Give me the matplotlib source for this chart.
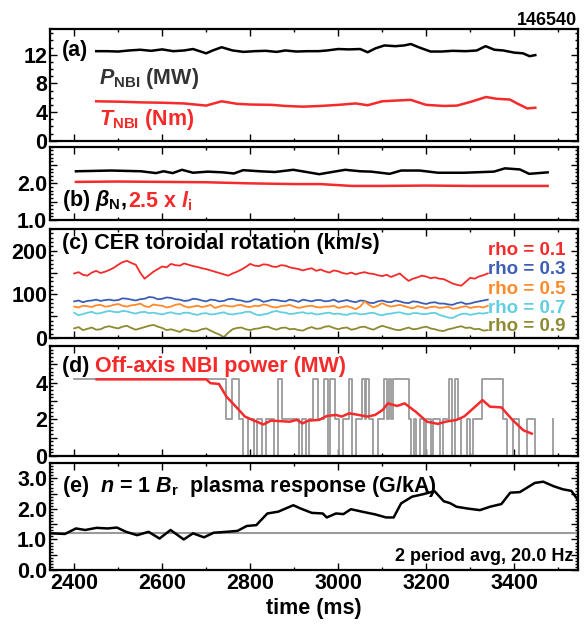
import matplotlib
matplotlib.use("Agg")
import matplotlib.pyplot as plt
from matplotlib.ticker import FixedLocator, FixedFormatter, MultipleLocator

plt.rcParams["font.family"] = ["Liberation Sans Narrow", "Liberation Sans", "DejaVu Sans"]
plt.rcParams["font.weight"] = "bold"
plt.rcParams["axes.labelweight"] = "bold"
plt.rcParams["mathtext.fontset"] = "custom"
plt.rcParams["mathtext.rm"] = "Liberation Sans:bold"
plt.rcParams["mathtext.it"] = "Liberation Sans:italic:bold"
plt.rcParams["mathtext.bf"] = "Liberation Sans:bold"

# (a) NBI power and torque
a_t = [2450, 2475, 2500, 2525, 2550, 2575, 2600, 2625, 2650, 2670, 2685, 2700, 2715, 2735,
       2760, 2785, 2810, 2835, 2860, 2880, 2905, 2930, 2955, 2975, 3000, 3025, 3050, 3067,
       3085, 3105, 3130, 3150, 3165, 3185, 3210, 3235, 3260, 3290, 3315, 3335, 3355, 3375,
       3400, 3420, 3435, 3448]
p_nbi = [12.5, 12.5, 12.45, 12.6, 12.7, 12.55, 12.75, 12.5, 12.6, 12.8, 12.5, 12.2, 12.6, 13.05,
         12.6, 12.4, 12.5, 12.55, 12.4, 12.6, 12.45, 12.5, 12.5, 12.6, 12.8, 12.75, 12.8, 12.35,
         12.9, 13.3, 13.2, 13.3, 13.5, 13.0, 12.45, 12.45, 12.55, 12.5, 12.6, 13.2, 12.7, 12.6,
         12.3, 12.2, 11.8, 11.95]
t2_t = [2450, 2500, 2550, 2600, 2650, 2700, 2735, 2770, 2800, 2850, 2880, 2920, 2960, 3000,
        3040, 3067, 3100, 3130, 3165, 3200, 3240, 3270, 3300, 3336, 3360, 3390, 3410, 3430, 3448]
t_nbi = [5.5, 5.45, 5.35, 5.3, 5.2, 4.9, 5.5, 5.15, 5.05, 5.0, 4.85, 4.75, 4.85, 5.0,
         5.2, 4.95, 5.5, 5.6, 5.7, 5.0, 4.85, 4.9, 5.4, 6.1, 5.85, 5.75, 5.1, 4.5, 4.6]

# (b) beta_N and 2.5 x li
b_t = [2404, 2484, 2552, 2586, 2603, 2624, 2645, 2670, 2704, 2738, 2763, 2784, 2822, 2856,
       2898, 2923, 2957, 2991, 3016, 3050, 3075, 3117, 3143, 3185, 3227, 3286, 3354, 3379,
       3413, 3434, 3476]
beta_n = [2.33, 2.35, 2.33, 2.28, 2.33, 2.28, 2.37, 2.29, 2.32, 2.30, 2.27, 2.36, 2.33, 2.31,
          2.37, 2.32, 2.25, 2.32, 2.37, 2.33, 2.32, 2.26, 2.35, 2.35, 2.29, 2.29, 2.32, 2.41,
          2.38, 2.26, 2.30]
li_t = [2404, 2500, 2600, 2700, 2800, 2900, 2960, 3030, 3100, 3200, 3300, 3400, 3476]
li25 = [2.04, 2.05, 2.04, 2.03, 2.00, 1.98, 1.98, 1.93, 1.93, 1.94, 1.93, 1.93, 1.93]

# (c) CER toroidal rotation, 10 ms samples from 2400 to 3340 ms
c_t = list(range(2400, 3341, 10))
rot_01 = [148, 151, 145, 143, 150, 154, 149, 152, 156, 161,
          168, 174, 177, 172, 168, 150, 136, 144, 152, 158,
          164, 162, 170, 167, 166, 171, 168, 165, 163, 160,
          158, 155, 152, 149, 146, 143, 148, 152, 157, 163,
          170, 166, 165, 169, 168, 164, 163, 167, 166, 162,
          160, 158, 155, 158, 160, 154, 157, 153, 150, 155,
          153, 149, 147, 150, 146, 149, 151, 148, 147, 144,
          142, 145, 140, 144, 148, 139, 131, 136, 139, 143,
          141, 137, 139, 136, 135, 130, 125, 122, 120, 129,
          138, 136, 141, 144, 148]
rot_03 = [84, 86, 82, 85, 86, 88, 85, 87, 88, 86,
          87, 91, 90, 88, 86, 89, 90, 94, 93, 89,
          90, 93, 92, 89, 88, 85, 86, 90, 89, 86,
          84, 88, 87, 84, 85, 89, 90, 87, 86, 83,
          84, 89, 88, 83, 85, 88, 87, 85, 84, 88,
          86, 83, 88, 86, 84, 87, 87, 84, 85, 88,
          83, 85, 87, 84, 82, 86, 85, 81, 80, 84,
          86, 83, 82, 86, 84, 81, 80, 84, 83, 80,
          78, 81, 82, 79, 79, 77, 76, 80, 82, 78,
          79, 82, 84, 86, 88]
rot_05 = [72, 70, 74, 73, 71, 75, 76, 72, 73, 76,
          78, 74, 72, 75, 76, 79, 73, 71, 77, 75,
          74, 70, 72, 76, 78, 73, 70, 72, 74, 71,
          73, 76, 69, 72, 75, 73, 72, 75, 76, 72,
          71, 74, 73, 77, 75, 71, 70, 73, 74, 76,
          72, 69, 71, 73, 74, 71, 70, 72, 72, 74,
          69, 71, 73, 70, 66, 72, 84, 76, 70, 74,
          80, 75, 72, 74, 76, 73, 70, 68, 73, 71,
          68, 71, 72, 69, 70, 72, 67, 68, 71, 73,
          69, 71, 72, 70, 74]
rot_07 = [58, 52, 55, 58, 60, 56, 57, 60, 62, 60,
          59, 62, 61, 58, 56, 59, 60, 57, 58, 56,
          54, 57, 59, 56, 55, 58, 58, 55, 53, 56,
          57, 54, 55, 57, 59, 55, 54, 56, 57, 60,
          60, 55, 52, 54, 56, 60, 62, 59, 58, 55,
          56, 58, 59, 56, 57, 54, 55, 57, 58, 55,
          56, 54, 53, 56, 57, 54, 55, 57, 58, 54,
          52, 55, 56, 58, 59, 56, 54, 57, 57, 55,
          55, 57, 58, 53, 50, 47, 46, 51, 55, 56,
          53, 55, 57, 56, 58]
rot_09 = [22, 25, 18, 21, 24, 19, 20, 25, 27, 24,
          22, 26, 28, 23, 19, 22, 25, 28, 30, 26,
          23, 18, 20, 17, 14, 20, 18, 15, 16, 20,
          22, 17, 12, 8, 2, 12, 20, 23, 24, 20,
          18, 21, 22, 25, 26, 22, 19, 23, 24, 20,
          21, 18, 17, 22, 25, 21, 22, 26, 27, 23,
          20, 23, 24, 19, 21, 25, 26, 22, 19, 24,
          28, 25, 22, 19, 18, 21, 24, 20, 21, 24,
          26, 22, 20, 17, 16, 20, 22, 25, 27, 23,
          24, 20, 21, 17, 18]
rho_labels = ["rho = 0.1", "rho = 0.3", "rho = 0.5", "rho = 0.7", "rho = 0.9"]
rho_colors = ["#f52a2a", "#3c5fb4", "#ff8a2a", "#62cfe0", "#8e8a30"]

# (d) off-axis NBI power: raw beam steps and smoothed
d_step_t = [2400, 2746, 2759, 2775, 2784, 2794, 2808, 2815, 2826, 2835, 2855, 2863, 2873,
            2912, 2918, 2926, 2933, 2942, 2955, 2968, 2976, 2982, 2993, 3003, 3010, 3025,
            3032, 3040, 3054, 3060, 3064, 3071, 3080, 3090, 3104, 3110, 3115, 3120, 3125,
            3160, 3166, 3172, 3178, 3186, 3194, 3200, 3210, 3216, 3231, 3238, 3252, 3258,
            3265, 3273, 3280, 3292, 3300, 3307, 3328, 3375, 3383, 3398, 3410, 3429, 3448, 3489]
d_step_p = [4.2, 2.0, 4.2, 2.0, 0.0, 2.0, 0.0, 2.0, 0.0, 2.0, 0.0, 4.2, 2.0,
            0.0, 2.0, 0.0, 2.0, 4.2, 2.0, 4.2, 0.0, 4.2, 2.0, 0.0, 2.0, 4.2,
            0.0, 2.0, 4.2, 2.0, 4.2, 2.0, 0.0, 2.0, 4.2, 2.0, 4.2, 2.0, 4.2,
            2.0, 0.0, 2.0, 0.0, 2.0, 0.0, 2.0, 0.0, 2.0, 0.0, 2.0, 4.2, 0.0,
            4.2, 2.0, 0.0, 2.0, 0.0, 2.0, 4.2, 2.0, 0.0, 2.0, 0.0, 2.0, 0.0, 2.0]
d_avg_t = [2451, 2700, 2710, 2729, 2746, 2771, 2788, 2805, 2830, 2847, 2890, 2906, 2919,
           2932, 2957, 2974, 2995, 3008, 3025, 3046, 3067, 3084, 3101, 3113, 3134, 3151,
           3176, 3202, 3227, 3244, 3269, 3286, 3303, 3328, 3345, 3371, 3396, 3421, 3440]
d_avg_p = [4.18, 4.18, 3.97, 3.93, 3.24, 2.60, 2.15, 1.97, 1.72, 1.93, 1.87, 1.97, 1.78,
           1.93, 1.97, 2.18, 2.24, 2.15, 2.33, 2.24, 2.15, 2.24, 2.51, 2.87, 2.73, 2.87,
           2.42, 1.87, 1.75, 1.87, 1.97, 2.15, 2.51, 3.05, 2.69, 2.65, 1.97, 1.40, 1.22]

# (e) n=1 Br plasma response
e_t = [2349, 2379, 2404, 2425, 2451, 2476, 2497, 2518, 2543, 2569, 2594, 2619, 2649, 2670,
       2695, 2717, 2746, 2771, 2792, 2814, 2839, 2864, 2898, 2915, 2940, 2965, 2974, 2995,
       3012, 3029, 3054, 3084, 3109, 3126, 3143, 3168, 3193, 3219, 3240, 3254, 3269, 3295,
       3322, 3345, 3371, 3391, 3413, 3447, 3466, 3490, 3511, 3530, 3545]
e_br = [1.20, 1.18, 1.36, 1.31, 1.38, 1.36, 1.39, 1.25, 1.14, 1.25, 1.03, 1.31, 1.00, 1.20,
        1.07, 1.22, 1.25, 1.28, 1.44, 1.47, 1.85, 1.91, 2.12, 2.01, 1.87, 1.85, 1.72, 1.85,
        1.83, 1.99, 1.91, 1.82, 1.72, 1.72, 2.18, 2.40, 2.48, 2.58, 2.25, 2.19, 2.07, 2.01,
        1.96, 2.07, 2.16, 2.53, 2.55, 2.85, 2.89, 2.74, 2.64, 2.59, 2.29]
e_ref = 1.2

RED = "#f52a2a"
GREY = "#9a9a9a"
FS = 15.5

fig = plt.figure(figsize=(5.86, 6.3), dpi=100)
L, W = 0.0853, 0.9010
ax_a = fig.add_axes([L, 0.7767, W, 0.1773])
ax_b = fig.add_axes([L, 0.6508, W, 0.1163])
ax_c = fig.add_axes([L, 0.4635, W, 0.1730])
ax_d = fig.add_axes([L, 0.2762, W, 0.1746])
ax_e = fig.add_axes([L, 0.0952, W, 0.1698])
axes = [ax_a, ax_b, ax_c, ax_d, ax_e]

for ax in axes:
    ax.set_xlim(2345, 3545)
    ax.xaxis.set_major_locator(MultipleLocator(200))
    ax.xaxis.set_minor_locator(MultipleLocator(100))
    ax.tick_params(which="both", direction="in", top=True, right=True, width=1,
                   labelsize=FS, pad=2)
    ax.tick_params(which="major", length=5)
    ax.tick_params(which="minor", length=2.5)
    for s in ax.spines.values():
        s.set_linewidth(1.6)
    if ax is not ax_e:
        ax.tick_params(labelbottom=False)

# (a)
ax_a.plot(a_t, p_nbi, color="black", lw=1.8)
ax_a.plot(t2_t, t_nbi, color=RED, lw=1.8)
ax_a.set_ylim(0, 15.6)
ax_a.yaxis.set_major_locator(FixedLocator([0, 4, 8, 12]))
ax_a.yaxis.set_minor_locator(MultipleLocator(1))
ax_a.text(0.022, 0.81, "(a)", transform=ax_a.transAxes, fontsize=FS, va="center")
ax_a.text(0.092, 0.56, r"$P_{\rm NBI}$ (MW)", transform=ax_a.transAxes, fontsize=FS,
          va="center", color="#333333")
ax_a.text(0.092, 0.19, r"$T_{\rm NBI}$ (Nm)", transform=ax_a.transAxes, fontsize=FS,
          va="center", color=RED)
fig.text(0.985, 0.968, "146540", ha="right", va="center", fontsize=13)

# (b)
ax_b.plot(b_t, beta_n, color="black", lw=1.8)
ax_b.plot(li_t, li25, color=RED, lw=1.8)
ax_b.set_ylim(1.0, 3.0)
ax_b.yaxis.set_major_locator(FixedLocator([1.0, 1.5, 2.0, 2.5]))
ax_b.yaxis.set_major_formatter(FixedFormatter(["1.0", "", "2.0", ""]))
ax_b.yaxis.set_minor_locator(MultipleLocator(0.1))
tb = ax_b.text(0.022, 0.27, r"(b) $\beta_{\rm N}$, ", transform=ax_b.transAxes,
               fontsize=FS, va="center")
ax_b.annotate(r"2.5 x $l_{\rm i}$", xy=(1, 0), xycoords=tb, va="bottom",
              fontsize=FS, color=RED)

# (c)
for vals, col in zip([rot_01, rot_03, rot_05, rot_07, rot_09], rho_colors):
    ax_c.plot(c_t, vals, color=col, lw=1.3)
ax_c.set_ylim(0, 250)
ax_c.yaxis.set_major_locator(FixedLocator([0, 50, 100, 150, 200]))
ax_c.yaxis.set_major_formatter(FixedFormatter(["0", "", "100", "", "200"]))
ax_c.yaxis.set_minor_locator(MultipleLocator(10))
ax_c.text(0.022, 0.865, "(c) CER toroidal rotation (km/s)", transform=ax_c.transAxes,
          fontsize=FS, va="center")
for lab, col, yy in zip(rho_labels, rho_colors, [0.807, 0.630, 0.447, 0.272, 0.104]):
    ax_c.text(0.977, yy, lab, transform=ax_c.transAxes, fontsize=13.5, ha="right",
              va="center", color=col)

# (d)
ax_d.step(d_step_t, d_step_p, where="post", color=GREY, lw=1.3)
ax_d.plot(d_avg_t, d_avg_p, color=RED, lw=1.8)
ax_d.set_ylim(0, 6)
ax_d.yaxis.set_major_locator(FixedLocator([0, 1, 2, 3, 4, 5]))
ax_d.yaxis.set_major_formatter(FixedFormatter(["0", "", "2", "", "4", ""]))
ax_d.yaxis.set_minor_locator(MultipleLocator(0.2))
td = ax_d.text(0.022, 0.81, "(d) ", transform=ax_d.transAxes, fontsize=FS, va="center")
ax_d.annotate("Off-axis NBI power (MW)", xy=(1, 0), xycoords=td, va="bottom",
              fontsize=FS, color=RED)

# (e)
ax_e.axhline(e_ref, color=GREY, lw=1.5)
ax_e.plot(e_t, e_br, color="black", lw=1.8)
ax_e.set_ylim(0, 3.5)
ax_e.yaxis.set_major_locator(FixedLocator([0, 0.5, 1.0, 1.5, 2.0, 2.5, 3.0]))
ax_e.yaxis.set_major_formatter(FixedFormatter(["0.0", "", "1.0", "", "2.0", "", "3.0"]))
ax_e.yaxis.set_minor_locator(MultipleLocator(0.1))
ax_e.text(0.022, 0.78, r"(e)  $n$ = 1 $B_{\rm r}$  plasma response (G/kA)",
          transform=ax_e.transAxes, fontsize=FS, va="center")
ax_e.text(0.992, 0.13, "2 period avg, 20.0 Hz", transform=ax_e.transAxes, fontsize=13,
          ha="right", va="center")
ax_e.set_xlabel("time (ms)", fontsize=FS, labelpad=3)

fig.savefig("out.png", dpi=100)
